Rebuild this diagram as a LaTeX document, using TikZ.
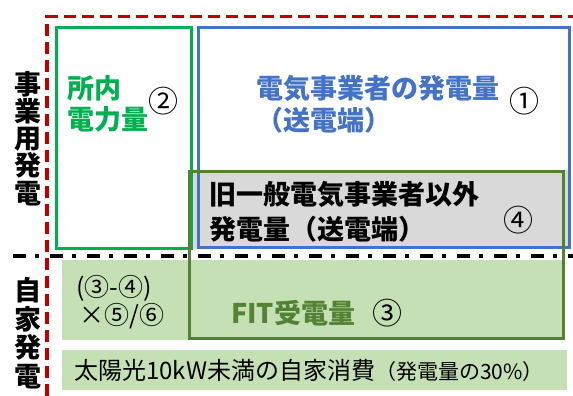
\documentclass[tikz,border=0pt]{standalone}
\usepackage{fontspec}
\newfontfamily\jp{Noto Sans CJK JP}
\definecolor{greenc}{HTML}{00B050}
\definecolor{bluec}{HTML}{4472C4}
\definecolor{dgreen}{HTML}{548235}
\definecolor{lgreen}{HTML}{C5E0B4}
\definecolor{grayf}{HTML}{D9D9D9}
\definecolor{redc}{HTML}{C00000}
\tikzset{
  txt/.style={inner sep=0pt, anchor=base west},
  big/.style={font=\jp\bfseries\fontsize{27}{27}\selectfont},
  vch/.style={inner sep=0pt, anchor=base, font=\jp\bfseries\fontsize{27}{27}\selectfont},
  circ/.style={inner sep=0pt, anchor=center, font=\jp\fontsize{30}{30}\selectfont},
  boxline/.style={line width=3.2pt},
}
\begin{document}
\begin{tikzpicture}[x=1pt,y=-1pt]
\useasboundingbox (0,0) rectangle (573,396);
% fills
\fill[lgreen] (62,260) rectangle (564,340);
\fill[lgreen] (62,350) rectangle (567,390);
\fill[grayf] (188,170) rectangle (570,249);
% boxes
\draw[bluec, boxline] (198.5,27.5) rectangle (569.5,247.5);
\draw[greenc, boxline] (56.5,27.5) rectangle (191.5,248.5);
\draw[dgreen, boxline] (189.5,171.5) rectangle (563.5,338.5);
% red dashed frame
\draw[redc, line width=3.2pt, dash pattern=on 12pt off 6pt] (47,396) -- (47,16.5) -- (573,16.5);
% dash-dot separator
\draw[black, line width=3.5pt, dash pattern=on 13pt off 9pt on 4pt off 11pt] (13,256) -- (573,256);
% vertical labels
\node[vch] (v1) at (27.5,94.5) {事};
\node[vch] (v2) at (27.5,121.5) {業};
\node[vch] (v3) at (27.5,148.5) {用};
\node[vch] (v4) at (27.5,175.5) {発};
\node[vch] (v5) at (27.5,203) {電};
\node[vch] (w1) at (28,300.5) {自};
\node[vch] (w2) at (28,329) {家};
\node[vch] (w3) at (28,357.5) {発};
\node[vch] (w4) at (28,386) {電};
% 所内電力量
\node[txt, big, text=greenc] (s1) at (67,98.5) {所内};
\node[txt, big, text=greenc] (s2) at (67,129.5) {電力量};
\node[circ] (c2) at (163,101) {②};
% 電気事業者
\node[txt, big, text=bluec] (b1) at (256,98) {電気事業者の発電量};
\node[txt, big, text=bluec] (b2) at (256,130.5) {（送電端）};
\node[circ] (c1) at (524.5,101.5) {①};
% 旧一般
\node[txt, big, text=black] (g1) at (209,204.5) {旧一般電気事業者以外};
\node[txt, big, text=black] (g2) at (209,239.5) {発電量（送電端）};
\node[circ] (c4) at (518,220) {④};
% formula
\node[txt, font=\jp\fontsize{25}{25}\selectfont] (f1) at (76,296) {(③-④)};
\node[txt, font=\jp\fontsize{25}{25}\selectfont] (f2) at (79,324) {×⑤/⑥};
% FIT
\node[txt, font=\jp\bfseries\fontsize{27}{27}\selectfont, text=dgreen] (fit) at (231,323.5) {FIT受電量};
\node[circ] (c3) at (387,313) {③};
% bottom strip
\node[txt, font=\jp\fontsize{24}{24}\selectfont] (solar) at (74,379) {太陽光10kW未満の自家消費{\fontsize{21}{21}\selectfont （発電量の30\%）}};
\end{tikzpicture}
\end{document}
